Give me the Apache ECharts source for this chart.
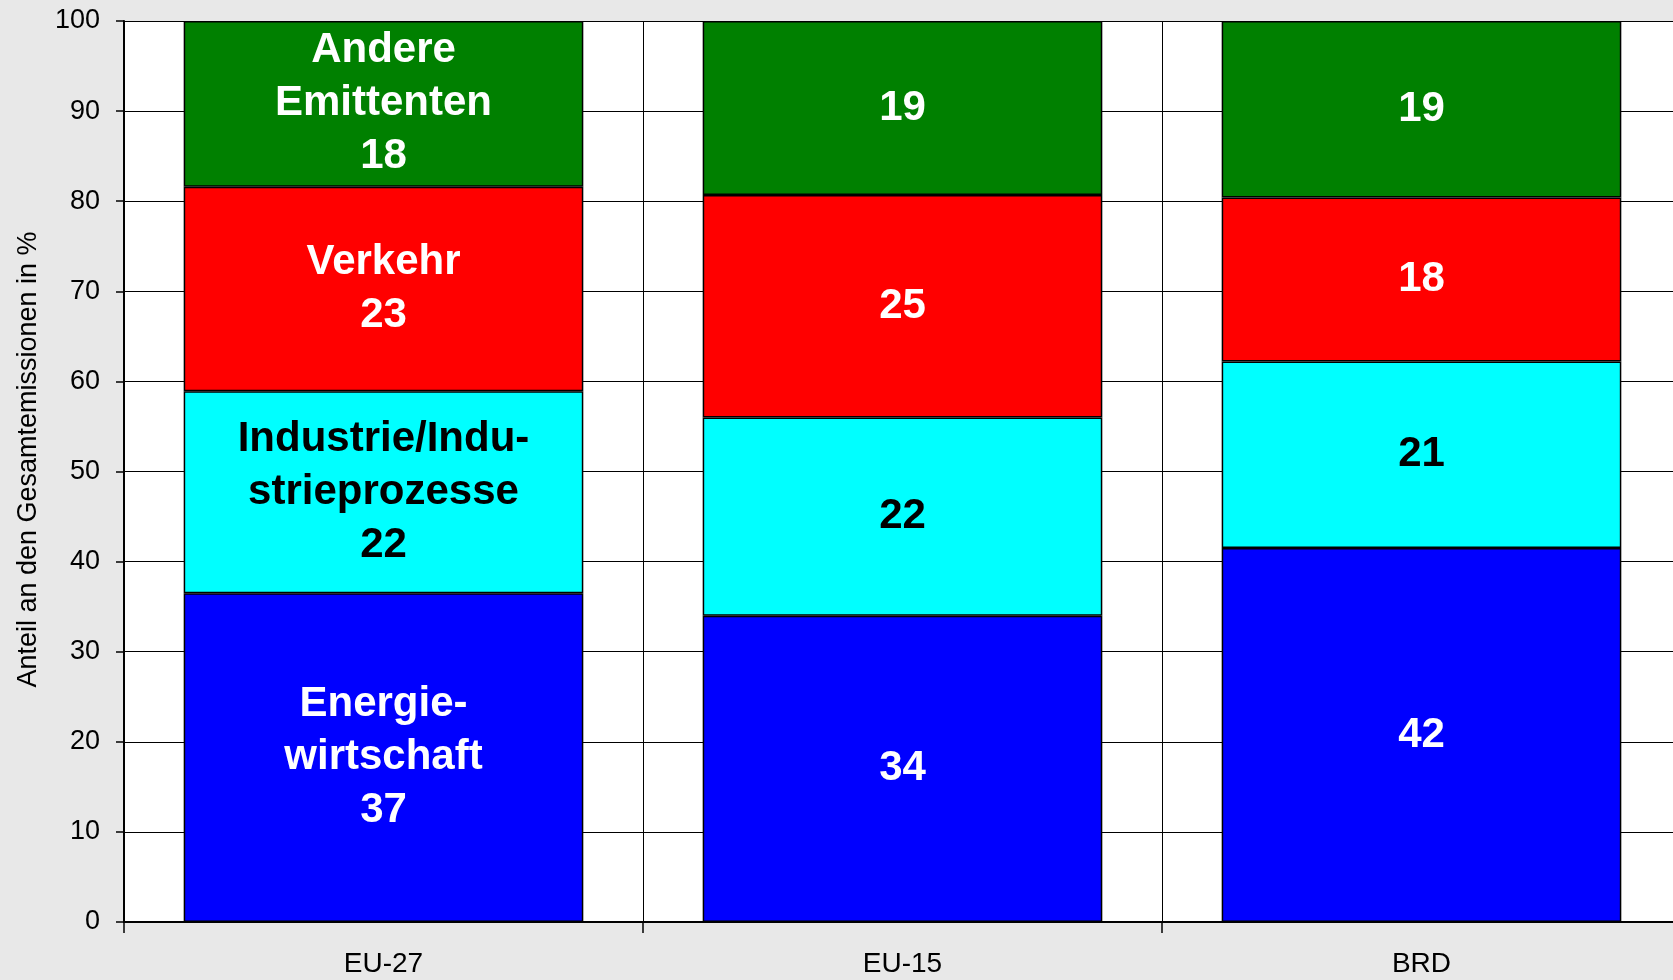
<!DOCTYPE html>
<html>
<head>
<meta charset="utf-8">
<script src="https://cdn.jsdelivr.net/npm/echarts@6/dist/echarts.min.js"></script>
<style>
html,body{margin:0;padding:0;background:#e8e8e8;overflow:hidden;width:1673px;height:980px;}
#chart{width:1681px;height:980px;}
</style>
</head>
<body>
<div id="chart"></div>
<script>
// Categories
var categories = ['EU-27', 'EU-15', 'BRD'];
// Series (bottom to top)
var seriesNames = ['Energiewirtschaft', 'Industrie/Industrieprozesse', 'Verkehr', 'Andere Emittenten'];
var seriesLabelNames = ['Energie-\nwirtschaft', 'Industrie/Indu-\nstrieprozesse', 'Verkehr', 'Andere\nEmittenten'];
var energie   = [36.5, 34.0, 41.5];
var industrie = [22.4, 22.0, 20.7];
var verkehr   = [22.7, 24.7, 18.2];
var andere    = [18.4, 19.3, 19.6];
// Printed labels
var energieLabels   = [37, 34, 42];
var industrieLabels = [22, 22, 21];
var verkehrLabels   = [23, 25, 18];
var andereLabels    = [18, 19, 19];
// Axis
var yTicks = [0, 10, 20, 30, 40, 50, 60, 70, 80, 90, 100];
var yTitle = 'Anteil an den Gesamtemissionen in %';

var FONT = "'Liberation Sans', Arial, Helvetica, sans-serif";
var values = [energie, industrie, verkehr, andere];
var labels = [energieLabels, industrieLabels, verkehrLabels, andereLabels];
var colors = ['#0000ff', '#00ffff', '#ff0000', '#008000'];
var labelColors = ['#ffffff', '#000000', '#ffffff', '#ffffff'];

var series = values.map(function (vals, si) {
  return {
    name: seriesNames[si],
    type: 'bar',
    stack: 'total',
    barCategoryGap: '23%',
    data: vals,
    itemStyle: { color: colors[si], borderColor: '#000', borderWidth: 1.5 },
    label: {
      show: true,
      position: 'inside',
      color: labelColors[si],
      fontFamily: FONT,
      fontSize: 42,
      fontWeight: 'bold',
      lineHeight: 53,
      formatter: function (p) {
        var v = labels[si][p.dataIndex];
        return p.dataIndex === 0 ? seriesLabelNames[si] + '\n' + v : String(v);
      }
    },
    emphasis: { disabled: true }
  };
});

var chart = echarts.init(document.getElementById('chart'), null, { renderer: 'canvas' });
chart.setOption({
  backgroundColor: '#e8e8e8',
  animation: false,
  grid: {
    left: 124, right: 0, top: 21, bottom: 58,
    show: true, backgroundColor: '#ffffff', borderWidth: 0
  },
  xAxis: {
    type: 'category',
    data: categories,
    boundaryGap: true,
    axisLine: { show: true, lineStyle: { color: '#000', width: 2 } },
    axisTick: { show: true, alignWithLabel: false, length: 11, lineStyle: { color: '#000', width: 1.5 } },
    splitLine: { show: true, lineStyle: { color: '#000', width: 1 } },
    axisLabel: { color: '#000', fontFamily: FONT, fontSize: 28, margin: 28 }
  },
  yAxis: {
    type: 'value',
    min: yTicks[0],
    max: yTicks[yTicks.length - 1],
    interval: yTicks[1] - yTicks[0],
    name: yTitle,
    nameLocation: 'middle',
    nameGap: 82,
    nameTextStyle: { color: '#000', fontFamily: FONT, fontSize: 27, padding: [0, 0, 0, 24] },
    axisLine: { show: true, lineStyle: { color: '#000', width: 2 } },
    axisTick: { show: true, length: 8, lineStyle: { color: '#000', width: 1.5 } },
    splitLine: { show: true, lineStyle: { color: '#000', width: 1 } },
    axisLabel: { color: '#000', fontFamily: FONT, fontSize: 27, margin: 24 }
  },
  series: series
});
</script>
</body>
</html>
